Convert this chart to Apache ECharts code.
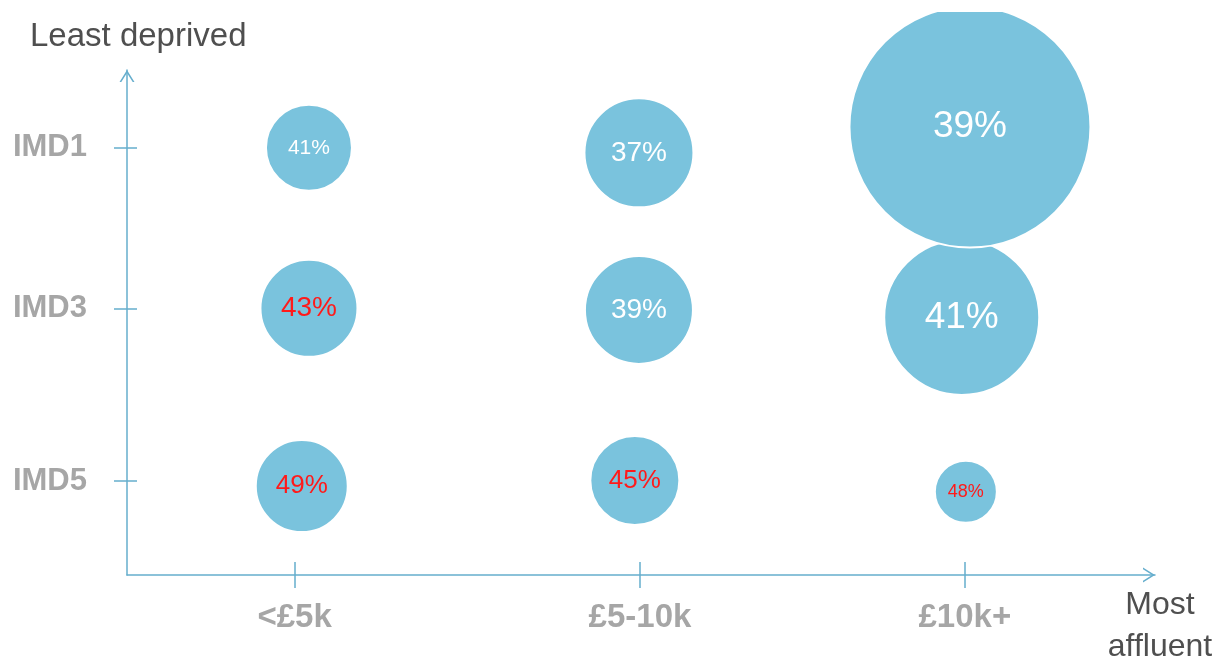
<!DOCTYPE html>
<html>
<head>
<meta charset="utf-8">
<script src="https://cdn.jsdelivr.net/npm/echarts@6/dist/echarts.min.js"></script>
<style>
  html, body { margin: 0; padding: 0; background: #fff; }
  /* chart starts a bit below the top so the big bubble gets cut like in the slide */
  #chart { position: absolute; left: 0; top: 12px; width: 1226px; height: 648px; }
</style>
</head>
<body>
<div id="chart"></div>
<script>
  // x: income band, y: deprivation level (both on a 0-100 layout scale)
  const incomeBands = ['<£5k', '£5-10k', '£10k+'];
  const incomeTicks = [16.3, 49.9, 81.5];
  const imdLevels = ['IMD1', 'IMD3', 'IMD5'];
  const imdTicks = [84.6, 52.7, 18.6];

  // bubbles, column by column, bottom row first
  const bubbleX = [17.0, 17.7, 17.7, 49.4, 49.8, 49.8, 81.6, 81.2, 82.0];
  const bubbleY = [17.6, 52.8, 84.6, 18.7, 52.5, 83.6, 16.5, 51.0, 88.7];
  const bubbleSize = [90, 95, 84, 87, 106, 107, 60, 153, 239];
  const bubblePct = [49, 43, 41, 45, 39, 37, 48, 41, 39];

  // label font size per bubble (style only)
  const labelFont = [26, 28, 21, 26, 28, 28, 18, 37, 37];

  const axisBlue = '#66aecd';
  const labelGrey = '#a6a6a6';
  const titleGrey = '#4f4f4f';
  const red = '#ff1a1a';
  const fontFam = '"Liberation Sans", Arial, sans-serif';
  const chevron = 'path://M0,12 L7.5,0 L15,12 L13.2,12 L7.5,2.9 L1.8,12 Z';

  function tickName(ticks, names, v) {
    let i = ticks.findIndex(t => Math.abs(t - v) < 0.01);
    return i < 0 ? '' : names[i];
  }

  let chart = echarts.init(document.getElementById('chart'));
  chart.setOption({
    animation: false,
    grid: { left: 127, right: 71, top: 58, bottom: 85 },
    xAxis: [
      {
        type: 'value', min: 0, max: 100, position: 'bottom',
        axisLine: {
          show: true, onZero: false,
          symbol: ['none', chevron], symbolSize: [15, 12], symbolOffset: [0, -6],
          lineStyle: { color: axisBlue, width: 1.5 }
        },
        axisTick: { show: true, customValues: incomeTicks, length: 13, lineStyle: { color: axisBlue, width: 1.5 } },
        axisLabel: {
          customValues: incomeTicks,
          formatter: v => tickName(incomeTicks, incomeBands, v),
          margin: 26, color: labelGrey, fontSize: 33, fontWeight: 'bold', fontFamily: fontFam
        },
        splitLine: { show: false }
      },
      {
        // second axis only to make the ticks cross the line
        type: 'value', min: 0, max: 100, position: 'bottom',
        axisLine: { show: false, onZero: false },
        axisTick: { show: true, inside: true, customValues: incomeTicks, length: 13, lineStyle: { color: axisBlue, width: 1.5 } },
        axisLabel: { show: false },
        splitLine: { show: false }
      }
    ],
    yAxis: [
      {
        type: 'value', min: 0, max: 100, position: 'left',
        axisLine: {
          show: true, onZero: false,
          symbol: ['none', chevron], symbolSize: [15, 12], symbolOffset: [0, -6],
          lineStyle: { color: axisBlue, width: 1.5 }
        },
        axisTick: { show: true, customValues: imdTicks, length: 13, lineStyle: { color: axisBlue, width: 1.5 } },
        axisLabel: {
          customValues: imdTicks,
          formatter: v => tickName(imdTicks, imdLevels, v),
          margin: 40, color: labelGrey, fontSize: 31, fontWeight: 'bold', fontFamily: fontFam
        },
        splitLine: { show: false }
      },
      {
        type: 'value', min: 0, max: 100, position: 'left',
        axisLine: { show: false, onZero: false },
        axisTick: { show: true, inside: true, customValues: imdTicks, length: 10, lineStyle: { color: axisBlue, width: 1.5 } },
        axisLabel: { show: false },
        splitLine: { show: false }
      }
    ],
    graphic: [
      {
        type: 'text', left: 30, top: 8,
        style: { text: 'Least deprived', fontSize: 33, fontFamily: fontFam, fill: titleGrey }
      },
      {
        type: 'text', x: 1160, y: 572,
        style: {
          text: 'Most\naffluent', fontSize: 32, fontFamily: fontFam, fill: titleGrey,
          align: 'center', verticalAlign: 'top', lineHeight: 42
        }
      }
    ],
    series: [{
      type: 'scatter',
      xAxisIndex: 0,
      yAxisIndex: 0,
      clip: false,
      data: bubbleX.map((x, i) => ({
        value: [x, bubbleY[i]],
        label: { fontSize: labelFont[i], color: bubblePct[i] > 42 ? red : '#fff' }
      })),
      symbolSize: (val, p) => bubbleSize[p.dataIndex] + 2,
      itemStyle: { color: '#7ac3dd', borderColor: '#fff', borderWidth: 2, opacity: 1 },
      label: {
        show: true, position: 'inside',
        formatter: p => bubblePct[p.dataIndex] + '%',
        fontFamily: fontFam
      },
      emphasis: { disabled: true }
    }]
  });
</script>
</body>
</html>
